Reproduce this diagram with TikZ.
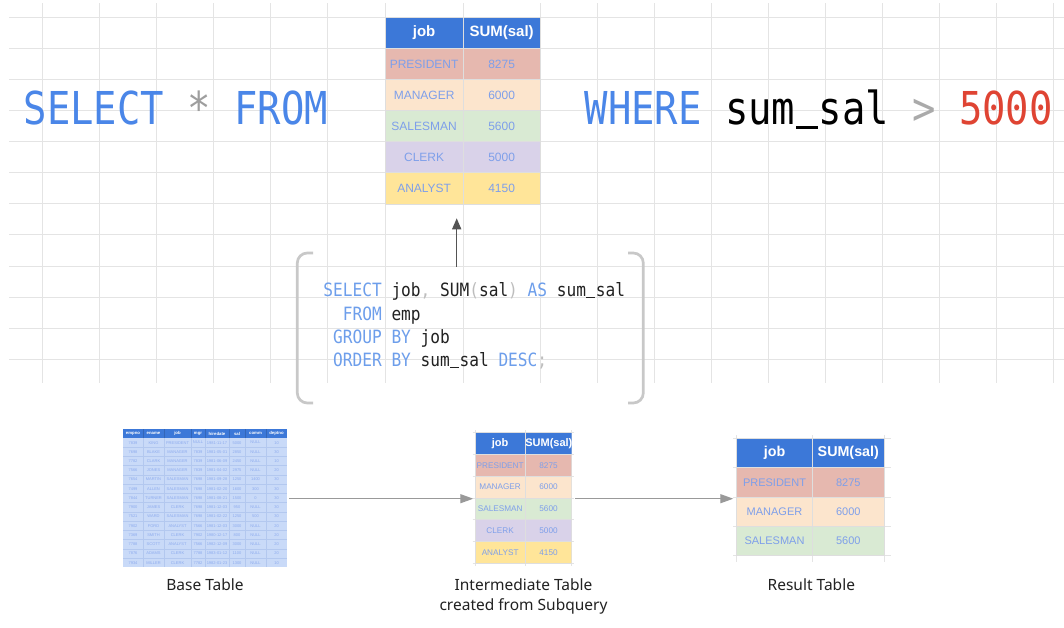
\documentclass[tikz,border=0pt]{standalone}
\usepackage{fontspec}
\setmainfont{Liberation Sans}
\newfontfamily\bigmono[FakeStretch=0.858]{DejaVu Sans Mono}
\newfontfamily\codemono[FakeStretch=0.883]{DejaVu Sans Mono}
\newfontfamily\labelfont{Noto Sans}
\usetikzlibrary{arrows.meta}

\definecolor{gridc}{HTML}{E4E4E4}
\definecolor{hdr}{HTML}{3C78D8}
\definecolor{rowA}{HTML}{E6B8AF}
\definecolor{rowB}{HTML}{FCE5CD}
\definecolor{rowC}{HTML}{D9EAD3}
\definecolor{rowD}{HTML}{D9D2E9}
\definecolor{rowE}{HTML}{FFE599}
\definecolor{celltxt}{HTML}{7E9FEA}
\definecolor{baserow}{HTML}{C9DAF8}
\definecolor{baselinec}{HTML}{B3C8EF}
\definecolor{basetxt}{HTML}{8DABEE}
\definecolor{kwblue}{HTML}{4A86E8}
\definecolor{codekw}{HTML}{6D9EEB}
\definecolor{codepu}{HTML}{BDBDBD}
\definecolor{codeid}{HTML}{222222}
\definecolor{stargray}{HTML}{9E9E9E}
\definecolor{gtgray}{HTML}{AAAAAA}
\definecolor{numred}{HTML}{DF4433}
\definecolor{bracketc}{HTML}{C8C8C8}
\definecolor{lblc}{HTML}{222222}

\newcommand\sqlkw[1]{\textcolor{codekw}{#1}}
\newcommand\sqlpu[1]{\textcolor{codepu}{#1}}
% underscore drawn as a rule one character wide
\newcommand\usc{\rlap{\kern0.02em\rule[-0.09em]{0.48em}{0.058em}}\hphantom{a}}

\tikzset{
  gridline/.style={draw=gridc, line width=1pt},
  faintgrid/.style={draw=gridc, line width=0.8pt},
  tcell/.style={anchor=north west, inner sep=0pt, outer sep=0pt, draw=black!13, line width=0.6pt},
  bigtxt/.style={anchor=base west, inner sep=0pt, font=\bigmono\fontsize{45.3pt}{50pt}\selectfont},
  codetxt/.style={anchor=base west, inner sep=0pt, text=codeid, font=\codemono\fontsize{18.3pt}{23pt}\selectfont},
  bracket/.style={draw=bracketc, line width=2.7pt, rounded corners=10pt},
  uparrow/.style={draw=black!67, line width=1.5pt, -{Triangle[length=11pt,width=9pt]}},
  flowarrow/.style={draw=black!40, line width=1.2pt, -{Triangle[length=13pt,width=9pt]}},
  lbl/.style={anchor=base, inner sep=0pt, text=lblc, font=\labelfont\fontsize{15.5pt}{18pt}\selectfont},
  btxt/.style={anchor=center, inner sep=0pt, text=basetxt, font=\fontsize{4pt}{4pt}\selectfont},
  bhdr/.style={anchor=center, inner sep=0pt, text=white, font=\fontsize{4.3pt}{4.3pt}\selectfont\bfseries},
  baserule/.style={draw=baselinec, line width=0.5pt},
}

% #1 name, #2 x0, #3 xm, #4 x1, #5 ytop, #6 row height, #7 header size, #8 row size, #9 rows
\newcommand\jobtable[9]{%
  \pgfmathsetmacro\jtwa{#3-#2}%
  \pgfmathsetmacro\jtwb{#4-#3}%
  \node[tcell, fill=hdr, text=white, minimum width=\jtwa pt, minimum height=#6pt,
        font=\fontsize{#7pt}{#7pt}\selectfont\bfseries] (#1-h1) at (#2,#5) {job};
  \node[tcell, fill=hdr, text=white, minimum width=\jtwb pt, minimum height=#6pt,
        font=\fontsize{#7pt}{#7pt}\selectfont\bfseries] (#1-h2) at (#3,#5) {SUM(sal)};
  \foreach \jj/\vv/\cc [count=\ii] in {PRESIDENT/8275/rowA, MANAGER/6000/rowB,
      SALESMAN/5600/rowC, CLERK/5000/rowD, ANALYST/4150/rowE}{%
    \ifnum\ii>#9\relax\else
      \pgfmathsetmacro\yy{#5+\ii*#6}%
      \node[tcell, fill=\cc, text=celltxt, minimum width=\jtwa pt, minimum height=#6pt,
            font=\fontsize{#8pt}{#8pt}\selectfont] (#1-\ii-1) at (#2,\yy) {\jj};
      \node[tcell, fill=\cc, text=celltxt, minimum width=\jtwb pt, minimum height=#6pt,
            font=\fontsize{#8pt}{#8pt}\selectfont] (#1-\ii-2) at (#3,\yy) {\vv};
    \fi}%
}

\begin{document}
\begin{tikzpicture}[x=1pt,y=-1pt]
\useasboundingbox (0,0) rectangle (1064,628);
\fill[white] (0,0) rectangle (1064,628);

% background spreadsheet grid
\foreach \k in {0,...,11}{
  \pgfmathsetmacro\gy{17.3+\k*31.09}
  \draw[gridline] (9.3,\gy) -- (1064,\gy);
}
\foreach \gx in {42.3,99.3,156.3,213.3,270.3,327.3,385,463.3,540,597,654,711,768,825,882,939,996,1053}{
  \draw[gridline] (\gx,3.3) -- (\gx,383.3);
}

% top table
\jobtable{top}{385}{463.3}{540}{17.3}{31.1}{15}{12}{5}

% big query text
\node[bigtxt] (outerq) at (23.5,125) {\textcolor{kwblue}{SELECT} \textcolor{stargray}{*} \textcolor{kwblue}{FROM}};
\node[bigtxt] (whereq) at (584.5,125) {\textcolor{kwblue}{WHERE} \textcolor{black}{sum\usc sal} \textcolor{gtgray}{>} \textcolor{numred}{5000}};

% subquery code
\node[codetxt] (code1) at (323.2,296.7) {\sqlkw{SELECT} job\sqlpu{,} SUM\sqlpu{(}sal\sqlpu{)} \sqlkw{AS} sum\usc sal};
\node[codetxt] (code2) at (323.2,320) {\hphantom{SE}\sqlkw{FROM} emp};
\node[codetxt] (code3) at (323.2,343.3) {\hphantom{S}\sqlkw{GROUP} \sqlkw{BY} job};
\node[codetxt] (code4) at (323.2,366.7) {\hphantom{S}\sqlkw{ORDER} \sqlkw{BY} sum\usc sal \sqlkw{DESC}\sqlpu{;}};

% brackets
\draw[bracket] (313,253) -- (297.3,253) -- (297.3,403) -- (313,403);
\draw[bracket] (628,253) -- (643.3,253) -- (643.3,403) -- (628,403);

% arrow from subquery to table
\coordinate (subq) at (456.7,266.7);
\coordinate (subqtip) at (456.7,218.3);
\draw[uparrow] (subq) -- (subqtip);

% ---------- base table ----------
\fill[hdr] (123,429) rectangle (287,438);
\fill[baserow] (123,438) rectangle (287,567.4);
\foreach \k in {1,...,13}{
  \pgfmathsetmacro\by{438+\k*9.24}
  \draw[baserule] (123,\by) -- (287,\by);
}
\foreach \bx in {143,164,191,205,229,245,266}{
  \draw[baserule] (\bx,438) -- (\bx,567.4);
  \draw[hdr!85!black, line width=0.4pt] (\bx,429) -- (\bx,438);
}
\foreach \t/\cx [count=\c] in {empno/133,ename/153.5,job/177.5,mgr/198,hiredate/217,sal/237,comm/255.5,deptno/276.5}{
  \node[bhdr] (base-h-\c) at (\cx,433.5) {\t};
}
\foreach \a/\b/\cjob/\d/\e/\f/\g/\h [count=\r] in {
  7839/KING/PRESIDENT/NULL/1981-11-17/5000/NULL/10,
  7698/BLAKE/MANAGER/7839/1981-05-01/2850/NULL/30,
  7782/CLARK/MANAGER/7839/1981-06-09/2450/NULL/10,
  7566/JONES/MANAGER/7839/1981-04-02/2975/NULL/20,
  7654/MARTIN/SALESMAN/7698/1981-09-28/1250/1400/30,
  7499/ALLEN/SALESMAN/7698/1981-02-20/1600/300/30,
  7844/TURNER/SALESMAN/7698/1981-08-21/1500/0/30,
  7900/JAMES/CLERK/7698/1981-12-03/950/NULL/30,
  7521/WARD/SALESMAN/7698/1981-02-22/1250/500/30,
  7902/FORD/ANALYST/7566/1981-12-03/3000/NULL/20,
  7369/SMITH/CLERK/7902/1980-12-17/800/NULL/20,
  7788/SCOTT/ANALYST/7566/1982-12-09/3000/NULL/20,
  7876/ADAMS/CLERK/7788/1983-01-12/1100/NULL/20,
  7934/MILLER/CLERK/7782/1982-01-23/1300/NULL/10}{
  \pgfmathsetmacro\ry{438+(\r-0.5)*9.24}
  \node[btxt] (base-\r-1) at (133,\ry) {\a};
  \node[btxt] (base-\r-2) at (153.5,\ry) {\b};
  \node[btxt] (base-\r-3) at (177.5,\ry) {\cjob};
  \node[btxt] (base-\r-4) at (198,\ry) {\d};
  \node[btxt] (base-\r-5) at (217,\ry) {\e};
  \node[btxt] (base-\r-6) at (237,\ry) {\f};
  \node[btxt] (base-\r-7) at (255.5,\ry) {\g};
  \node[btxt] (base-\r-8) at (276.5,\ry) {\h};
}

% ---------- intermediate table ----------
\foreach \k in {0,...,6}{
  \pgfmathsetmacro\iy{432.7+\k*21.77}
  \draw[faintgrid] (472.7,\iy) -- (574,\iy);
}
\foreach \ix in {475,525.3,571.7}{\draw[faintgrid] (\ix,430) -- (\ix,565.5);}
\begin{scope}
  \clip (475,432.7) rectangle (571.7,563.4);
  \jobtable{mid}{475}{525.3}{571.7}{432.7}{21.77}{11}{8.2}{5}
\end{scope}

% ---------- result table ----------
\foreach \k in {0,...,4}{
  \pgfmathsetmacro\ry{438.3+\k*29.35}
  \draw[faintgrid] (733,\ry) -- (890.7,\ry);
}
\foreach \rx in {736.7,812.3,884.3}{\draw[faintgrid] (\rx,435) -- (\rx,561.7);}
\jobtable{res}{736.7}{812.3}{884.3}{438.3}{29.35}{14.3}{11}{3}

% flow arrows
\coordinate (a1s) at (289,498.7);
\coordinate (a1e) at (473.3,498.7);
\coordinate (a2s) at (575,498.7);
\coordinate (a2e) at (733.3,498.7);
\draw[flowarrow] (a1s) -- (a1e);
\draw[flowarrow] (a2s) -- (a2e);

% labels
\node[lbl] (lbase) at (205,590.7) {Base Table};
\node[lbl] (lmid1) at (523.5,590) {Intermediate Table};
\node[lbl] (lmid2) at (523.5,610.5) {created from Subquery};
\node[lbl] (lres) at (811.3,590.7) {Result Table};
\end{tikzpicture}
\end{document}
